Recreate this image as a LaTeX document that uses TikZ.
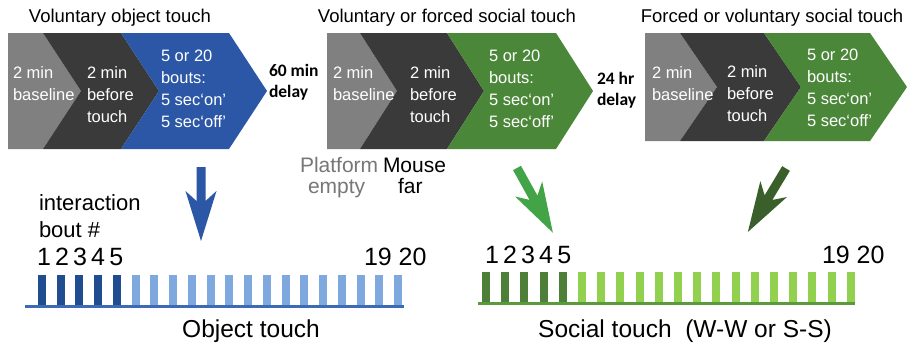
\documentclass[tikz,border=0pt]{standalone}
\usepackage{fontspec}
\setmainfont{Liberation Sans}
\newfontfamily\calib{Carlito}
\definecolor{chgray}{HTML}{808080}
\definecolor{chdark}{HTML}{3A3A3A}
\definecolor{chblue}{HTML}{2B57A6}
\definecolor{chgreen}{HTML}{4B8739}
\definecolor{bdark}{HTML}{1F4D8F}
\definecolor{blight}{HTML}{7FA9DE}
\definecolor{bline}{HTML}{3C6AB5}
\definecolor{gdark}{HTML}{4E7F38}
\definecolor{glight}{HTML}{92D050}
\definecolor{gline}{HTML}{5A9A3A}
\definecolor{garrow}{HTML}{43A447}
\definecolor{gdarkarrow}{HTML}{3A5F2A}
\definecolor{txtgray}{HTML}{777777}
\tikzset{
  chtext/.style={text=white, font=\fontsize{16.5}{21.7}\selectfont, align=left, anchor=base west},
  delaytext/.style={font=\calib\bfseries\fontsize{17.5}{20.5}\selectfont, align=left, anchor=base west},
  titletext/.style={font=\fontsize{18.5}{22}\selectfont, anchor=base},
  bigtext/.style={font=\fontsize{22}{27}\selectfont, anchor=base west},
  numtext/.style={font=\fontsize{25}{30}\selectfont, anchor=base west},
  midtext/.style={font=\fontsize{21}{25}\selectfont, anchor=base west},
  labeltext/.style={font=\fontsize{24.5}{29}\selectfont, anchor=base},
  fatarrow/.pic={\fill[pic actions] (0,-4.5) -- (34,-4.5) -- (24,-15.5) -- (74,0) -- (24,15.5) -- (34,4.5) -- (0,4.5) -- cycle;}
}
\begin{document}
\begin{tikzpicture}[x=1pt,y=-1pt, every node/.style={inner sep=0pt, outer sep=0pt}]
\useasboundingbox[fill=white] (0,0) rectangle (910,351);

% titles
\node[titletext] (t1) at (120,22) {Voluntary object touch};
\node[titletext] (t2) at (447,22) {Voluntary or forced social touch};
\node[titletext] (t3) at (772,22) {Forced or voluntary social touch};

% chevron row 1 (text anchors at the baseline of the last line)
\fill[chgray] (8,33) -- (43,33) -- (81,91) -- (43,149) -- (8,149) -- cycle;
\fill[chdark] (43,33) -- (121,33) -- (159,91) -- (121,149) -- (43,149) -- (81,91) -- cycle;
\fill[chblue] (121,33) -- (229,33) -- (267,91) -- (229,149) -- (121,149) -- (159,91) -- cycle;
\node[chtext] (a1) at (13,100) {2 min\\baseline};
\node[chtext] (b1) at (87,122) {2 min\\before\\touch};
\node[chtext] (c1) at (161,127) {5 or 20\\bouts:\\5 sec‘on’\\5 sec‘off’};

% chevron row 2
\fill[chgray] (327,33) -- (360,33) -- (397,91) -- (360,149) -- (327,149) -- cycle;
\fill[chdark] (360,33) -- (447,33) -- (484,91) -- (447,149) -- (360,149) -- (397,91) -- cycle;
\fill[chgreen] (447,33) -- (556,33) -- (593,91) -- (556,149) -- (447,149) -- (484,91) -- cycle;
\node[chtext] (a2) at (333,100) {2 min\\baseline};
\node[chtext] (b2) at (410,122) {2 min\\before\\touch};
\node[chtext] (c2) at (489,127) {5 or 20\\bouts:\\5 sec‘on’\\5 sec‘off’};

% chevron row 3
\fill[chgray] (645,33) -- (680,33) -- (717,87) -- (680,141) -- (645,141) -- cycle;
\fill[chdark] (680,33) -- (764,33) -- (801,87) -- (764,141) -- (680,141) -- (717,87) -- cycle;
\fill[chgreen] (764,33) -- (870,33) -- (907,87) -- (870,141) -- (764,141) -- (801,87) -- cycle;
\node[chtext] (a3) at (652,100) {2 min\\baseline};
\node[chtext] (b3) at (727,121) {2 min\\before\\touch};
\node[chtext] (c3) at (807,126) {5 or 20\\bouts:\\5 sec‘on’\\5 sec‘off’};

% delays
\node[delaytext] (d1) at (269,97) {60 min\\delay};
\node[delaytext] (d2) at (597,105) {24 hr\\delay};

% platform / mouse
\node[midtext, text=txtgray] (p1) at (300,172) {Platform};
\node[midtext] (p2) at (383,172) {Mouse};
\node[midtext, text=txtgray] (p3) at (308,193) {empty};
\node[midtext] (p4) at (398,193) {far};

% arrows
\coordinate (arrB) at (201,167);
\coordinate (arrG) at (517,168);
\coordinate (arrD) at (786,168.5);
\pic[fill=chblue, rotate=-90] at (arrB) {fatarrow};
\pic[fill=garrow, rotate=-61] at (arrG) {fatarrow};
\pic[fill=gdarkarrow, rotate=-121] at (arrD) {fatarrow};

% left timeline
\node[bigtext] (ib) at (39,210) {interaction};
\node[bigtext] (bn) at (39,237) {bout \#};
\node[numtext] (n1) at (37,265) {1\,2\,3\,4\,5};
\node[numtext] (n2) at (364,265) {19 20};
\foreach \i in {0,...,4} \fill[bdark] ({38+18.74*\i},275) rectangle ++(8,31);
\foreach \i in {5,...,19} \fill[blight] ({38+18.74*\i},275) rectangle ++(8,31);
\fill[bline] (25,305) rectangle (404,308);
\node[labeltext] (ot) at (251,337) {Object touch};

% right timeline
\node[numtext] (m1) at (485,263) {1\,2\,3\,4\,5};
\node[numtext] (m2) at (822,263) {19 20};
\foreach \i in {0,...,4} \fill[gdark] ({482+19.2*\i},272) rectangle ++(8,31);
\foreach \i in {5,...,19} \fill[glight] ({482+19.2*\i},272) rectangle ++(8,31);
\fill[gline] (478,302) rectangle (855,305);
\node[labeltext] (st) at (685,337) {Social touch\ \ (W-W or S-S)};
\end{tikzpicture}
\end{document}
